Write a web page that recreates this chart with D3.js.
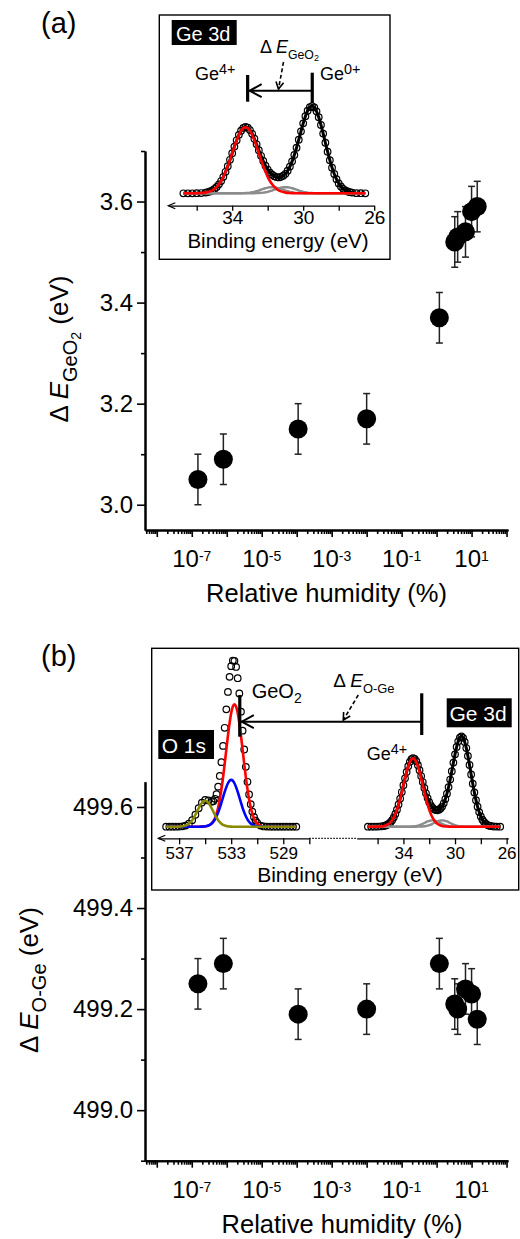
<!DOCTYPE html>
<html><head><meta charset="utf-8">
<script src="https://cdn.jsdelivr.net/npm/d3@7"></script>
<style>
body{margin:0;background:#fff}
text{font-family:"Liberation Sans",Arial,Helvetica,sans-serif;fill:#000}
</style>
</head><body>
<svg id="c" width="520" height="1239" xmlns="http://www.w3.org/2000/svg"></svg>
<script>
// ---------------- main panels data ----------------
const humidity = [1.5e-7, 8e-7, 1.1e-4, 1e-2, 1.2, 3.3, 4.0, 6.7, 10, 14.5];
const deltaEGeO2 = [3.05, 3.09, 3.15, 3.17, 3.37, 3.52, 3.53, 3.54, 3.58, 3.59];
const deltaEOGe = [499.25, 499.29, 499.19, 499.20, 499.29, 499.21, 499.20, 499.24, 499.23, 499.18];
const errorBar = 0.05;
const xDomain = [4.6e-9, 110];
const xLabelExponents = [-7, -5, -3, -1, 1];
const yDomainA = [2.95, 3.70];
const yMajorA = [3.0, 3.2, 3.4, 3.6];
const yMinorA = [3.1, 3.3, 3.5, 3.7];
const yDomainB = [498.90, 499.65];
const yMajorB = [499.0, 499.2, 499.4, 499.6];
const yMinorB = [498.9, 499.1, 499.3, 499.5];

// ---------------- Ge 3d spectrum (normalised intensity) ----------------
const ge3dEnergy = [36.75,36.5,36.25,36.0,35.75,35.5,
  35.375,35.25,35.125,35.0,34.875,34.75,34.625,34.5,34.375,34.25,34.125,34.0,
  33.875,33.75,33.625,33.5,33.375,33.25,33.125,33.0,
  32.875,32.75,32.625,32.5,32.375,32.25,32.125,32.0,
  31.875,31.75,31.625,31.5,31.375,31.25,31.125,31.0,
  30.875,30.75,30.625,30.5,30.375,30.25,30.125,30.0,
  29.875,29.75,29.625,29.5,29.375,29.25,29.125,29.0,
  28.875,28.75,28.625,28.5,28.375,28.25,28.125,28.0,
  27.875,27.75,27.625,27.5,27.375,27.25,
  27.0,26.75,26.5];
const ge3dData = [0,0,0,0.001,0.003,0.008,
  0.014,0.022,0.033,0.050,0.073,0.103,0.141,0.189,0.247,0.312,0.385,0.461,
  0.537,0.609,0.672,0.720,0.751,0.763,0.754,0.727,
  0.684,0.627,0.563,0.496,0.431,0.371,0.318,0.273,
  0.238,0.213,0.196,0.186,0.183,0.189,0.202,0.224,
  0.260,0.307,0.367,0.440,0.524,0.616,0.712,0.804,
  0.886,0.949,0.990,1.003,0.987,0.942,0.874,0.786,
  0.686,0.581,0.478,0.381,0.295,0.222,0.162,0.114,
  0.078,0.052,0.034,0.021,0.013,0.008,
  0.002,0.001,0];
const ge3dGe4 = [0,0,0,0.001,0.003,0.008,
  0.014,0.022,0.033,0.050,0.073,0.103,0.141,0.189,0.247,0.312,0.385,0.461,
  0.537,0.609,0.671,0.719,0.749,0.760,0.749,0.719,
  0.671,0.609,0.537,0.461,0.385,0.312,0.247,0.189,
  0.141,0.103,0.073,0.050,0.033,0.022,0.014,0.008,
  0.005,0.003,0.002,0.001,0,0,0,0,
  0,0,0,0,0,0,0,0,
  0,0,0,0,0,0,0,0,
  0,0,0,0,0,0,
  0,0,0];
const ge3dSubA = [0,0,0,0,0,0,
  0,0,0,0,0,0,0,0,0,0,0,0,
  0,0,0.001,0.001,0.002,0.003,0.005,0.008,
  0.012,0.017,0.024,0.032,0.041,0.050,0.058,0.065,
  0.069,0.070,0.069,0.065,0.058,0.050,0.041,0.032,
  0.024,0.017,0.012,0.008,0.005,0.003,0.002,0.001,
  0.001,0,0,0,0,0,0,0,
  0,0,0,0,0,0,0,0,
  0,0,0,0,0,0,
  0,0,0];
const ge3dSubB = [0,0,0,0,0,0,
  0,0,0,0,0,0,0,0,0,0,0,0,
  0,0,0,0,0,0,0,0,
  0.001,0.001,0.002,0.003,0.005,0.008,0.012,0.017,
  0.024,0.032,0.041,0.050,0.058,0.065,0.069,0.070,
  0.069,0.065,0.058,0.050,0.041,0.032,0.024,0.017,
  0.012,0.008,0.005,0.003,0.002,0.001,0.001,0,
  0,0,0,0,0,0,0,0,
  0,0,0,0,0,0,
  0,0,0];
const ge3dFit = ge3dData;
const ge3dTicks = [36, 34, 32, 30, 28, 26];
const ge3dLabels = [34, 30, 26];

// ---------------- O 1s spectrum (same units) ----------------
const o1sEnergy = [538.0,537.75,537.5,537.25,537.0,536.75,536.5,536.25,536.0,535.75,535.5,535.25,535.0,534.75,534.5,
  534.375,534.25,534.125,534.0,533.875,533.75,533.625,533.5,533.375,533.25,533.125,533.0,532.875,532.75,532.625,
  532.5,532.375,532.25,532.125,532.0,531.875,531.75,531.625,531.5,531.375,531.25,531.125,531.0,
  530.75,530.5,530.25,530.0,529.75,529.5,529.25,529.0,528.75,528.5,528.25,528.0];
const o1sData = [0,0,0,0,0.001,0.004,0.013,0.033,0.072,0.133,0.205,0.268,0.298,0.292,0.277,
  0.284,0.310,0.361,0.445,0.564,0.717,0.898,1.099,1.304,1.498,1.665,1.784,1.846,1.843,1.775,
  1.650,1.480,1.278,1.067,0.858,0.665,0.499,0.359,0.250,0.168,0.109,0.068,0.041,
  0.013,0.003,0.001,0,0,0,0,0,0,0,0,0];
const o1sGeO2 = [0,0,0,0,0,0,0,0,0,0,0,0.001,0.003,0.012,0.036,
  0.060,0.095,0.145,0.214,0.304,0.417,0.549,0.699,0.857,1.011,1.152,1.263,1.335,1.360,1.335,
  1.263,1.152,1.011,0.857,0.699,0.549,0.417,0.304,0.214,0.145,0.095,0.060,0.036,
  0.012,0.003,0.001,0,0,0,0,0,0,0,0,0];
const o1sBlue = [0,0,0,0,0,0,0,0,0,0,0,0.001,0.005,0.014,0.036,
  0.055,0.082,0.116,0.159,0.210,0.267,0.328,0.387,0.440,0.483,0.511,0.520,0.511,0.483,0.440,
  0.387,0.328,0.267,0.210,0.159,0.116,0.082,0.055,0.036,0.023,0.014,0.008,0.005,
  0.001,0,0,0,0,0,0,0,0,0,0,0];
const o1sOlive = [0,0,0,0,0.001,0.004,0.013,0.033,0.072,0.133,0.205,0.266,0.290,0.266,0.205,
  0.169,0.133,0.100,0.072,0.050,0.033,0.021,0.013,0.007,0.004,0.002,0.001,0,0,0,
  0,0,0,0,0,0,0,0,0,0,0,0,0,
  0,0,0,0,0,0,0,0,0,0,0,0];
const o1sTicks = [537, 535, 533, 531, 529, 527];
const o1sLabels = [537, 533, 529];

// peak marker energies (eV)
const markersA = {ge4: 33.13, ge0: 29.49};
const markersB = {geO2: 532.34, ge4: 32.58};

// ---------------- drawing ----------------
const svg = d3.select("#c");

function mainPanel(o) {
  const x = d3.scaleLog().domain(xDomain).range([145, 508]);
  const y = d3.scaleLinear().domain(o.yDomain).range([o.bottom, o.top]);
  const g = svg.append("g");
  const ya = g.append("g").attr("transform", "translate(145,0)")
    .call(d3.axisLeft(y).tickValues(o.yMajor).tickSize(8).tickSizeOuter(0).tickPadding(4).tickFormat(d3.format(".1f")));
  g.append("g").attr("transform", "translate(145,0)")
    .call(d3.axisLeft(y).tickValues(o.yMinor).tickSize(4).tickSizeOuter(0).tickFormat(""));
  const minors = [];
  for (let n = -9; n <= 2; n++) for (let k = 2; k <= 9; k++) {
    const v = k * Math.pow(10, n);
    if (v >= xDomain[0] && v <= xDomain[1]) minors.push(v);
  }
  const majors = [];
  for (let n = -8; n <= 2; n++) { const v = Math.pow(10, n); if (v >= xDomain[0] && v <= xDomain[1]) majors.push(v); }
  g.append("g").attr("transform", `translate(0,${o.bottom})`)
    .call(d3.axisBottom(x).tickValues(minors).tickSize(4).tickSizeOuter(0).tickFormat(""));
  g.append("g").attr("transform", `translate(0,${o.bottom})`)
    .call(d3.axisBottom(x).tickValues(majors).tickSize(7).tickSizeOuter(0).tickFormat(""));
  g.selectAll(".domain").attr("stroke", "#000").attr("stroke-width", 2);
  g.selectAll(".tick line").attr("stroke", "#000").attr("stroke-width", 1.6);
  ya.selectAll(".tick text").style("font-size", "24px").attr("fill", "#000");
  xLabelExponents.forEach(e => {
    const t = g.append("text").attr("x", x(Math.pow(10, e))).attr("y", o.bottom + 37)
      .attr("text-anchor", "middle").style("font-size", "24px");
    t.append("tspan").text("10");
    t.append("tspan").attr("dy", -6).style("font-size", "14px").text(String(e));
  });
  g.append("text").attr("x", o.xTitleX).attr("y", o.xTitleY).attr("text-anchor", "middle")
    .style("font-size", "25.5px").text("Relative humidity (%)");
  const t = g.append("text").attr("transform", `translate(${o.yTitleX},${o.yTitleY}) rotate(-90)`)
    .attr("text-anchor", "middle").style("font-size", "26px");
  t.append("tspan").text("\u0394 ");
  t.append("tspan").style("font-style", "italic").text("E");
  t.append("tspan").attr("dy", o.subDy).style("font-size", "20px").text(o.sub);
  let back = -o.subDy;
  if (o.subsub) { t.append("tspan").attr("dy", 4).style("font-size", "14px").text(o.subsub); back -= 4; }
  t.append("tspan").attr("dy", back).text(" (eV)");
  g.append("text").attr("x", 41).attr("y", o.labelY).style("font-size", "29px").text(o.label);
  const pts = humidity.map((h, i) => ({h, v: o.values[i]}));
  const eb = g.append("g").attr("stroke", "#222").attr("stroke-width", 1.5);
  pts.forEach(p => {
    const cx = x(p.h), y1 = y(p.v + errorBar), y2 = y(p.v - errorBar);
    eb.append("line").attr("x1", cx).attr("x2", cx).attr("y1", y1).attr("y2", y2);
    eb.append("line").attr("x1", cx - 3.5).attr("x2", cx + 3.5).attr("y1", y1).attr("y2", y1);
    eb.append("line").attr("x1", cx - 3.5).attr("x2", cx + 3.5).attr("y1", y2).attr("y2", y2);
  });
  g.append("g").selectAll("circle").data(pts).join("circle")
    .attr("cx", p => x(p.h)).attr("cy", p => y(p.v)).attr("r", 9.5).attr("fill", "#000");
}

mainPanel({top: 151, bottom: 530, yDomain: yDomainA, yMajor: yMajorA, yMinor: yMinorA, values: deltaEGeO2,
  xTitleX: 326.5, xTitleY: 602, yTitleX: 68, yTitleY: 349, sub: "GeO", subsub: "2", subDy: 9, label: "(a)", labelY: 33});
mainPanel({top: 781.7, bottom: 1160.7, yDomain: yDomainB, yMajor: yMajorB, yMinor: yMinorB, values: deltaEOGe,
  xTitleX: 342, xTitleY: 1233, yTitleX: 38, yTitleY: 980, sub: "O-Ge", subsub: null, subDy: 8, label: "(b)", labelY: 666});

// ---------- inset helpers ----------
function spectrum(g, xs, ys, energy, arr, color, width) {
  const line = d3.line().x((d, i) => xs(energy[i])).y(d => ys(d)).curve(d3.curveMonotoneX);
  g.append("path").attr("d", line(arr)).attr("fill", "none").attr("stroke", color)
    .attr("stroke-width", width).attr("stroke-linejoin", "round");
}
function dataCircles(g, xs, ys, energy, arr, r) {
  g.append("g").selectAll("circle").data(arr).join("circle")
    .attr("cx", (d, i) => xs(energy[i])).attr("cy", d => ys(d)).attr("r", r)
    .attr("fill", "none").attr("stroke", "#000").attr("stroke-width", 1.2);
}
function insetAxis(g, xs, y0, ticks, labels, fs, size, pad) {
  const a = g.append("g").attr("transform", `translate(0,${y0})`)
    .call(d3.axisBottom(xs).tickValues(ticks).tickSize(size).tickSizeOuter(0).tickPadding(pad)
      .tickFormat(d => labels.includes(d) ? String(d) : ""));
  a.select(".domain").attr("stroke", "#000").attr("stroke-width", 1.2);
  a.selectAll(".tick line").attr("stroke", "#000").attr("stroke-width", 1.3);
  a.selectAll(".tick text").style("font-size", fs + "px").attr("fill", "#000");
}
function leftArrow(g, x0, y0) {
  g.append("path").attr("d", `M${x0 + 7},${y0 - 3}L${x0},${y0}L${x0 + 7},${y0 + 3}`)
    .attr("fill", "none").attr("stroke", "#000").attr("stroke-width", 1.2);
}
function blackLabel(g, x, y, w, h, txt, fs, tx, ty) {
  g.append("rect").attr("x", x).attr("y", y).attr("width", w).attr("height", h).attr("fill", "#000");
  g.append("text").attr("x", tx).attr("y", ty).style("font-size", fs + "px").style("fill", "#fff").text(txt);
}
function dashedArrow(g, x1, y1, x2, y2) {
  g.append("line").attr("x1", x1).attr("y1", y1).attr("x2", x2).attr("y2", y2)
    .attr("stroke", "#000").attr("stroke-width", 1.6).attr("stroke-dasharray", "4,2.5");
  const ang = Math.atan2(y2 - y1, x2 - x1), L = 8, s = 0.5;
  const p1 = [x2 - L * Math.cos(ang - s), y2 - L * Math.sin(ang - s)];
  const p2 = [x2 - L * Math.cos(ang + s), y2 - L * Math.sin(ang + s)];
  g.append("path").attr("d", `M${p1}L${x2},${y2}L${p2}`).attr("fill", "none")
    .attr("stroke", "#000").attr("stroke-width", 1.6);
}
function deltaLabel(g, x, y, sub, subsub, fs) {
  const t = g.append("text").attr("x", x).attr("y", y).style("font-size", fs + "px");
  t.append("tspan").text("\u0394 ");
  t.append("tspan").style("font-style", "italic").text("E");
  t.append("tspan").attr("dy", 6).style("font-size", (fs * 0.68) + "px").text(sub);
  if (subsub) t.append("tspan").attr("dy", 2).style("font-size", (fs * 0.5) + "px").text(subsub);
}
function supLabel(g, x, y, base, sup, fs) {
  const t = g.append("text").attr("x", x).attr("y", y).style("font-size", fs + "px");
  t.append("tspan").text(base);
  t.append("tspan").attr("dy", -6).style("font-size", (fs * 0.8) + "px").text(sup);
}
function bracketArrow(g, xl, xr, yl, yBarTop, yBarBot, yBarTopR, yBarBotR) {
  g.append("line").attr("x1", xl).attr("x2", xr).attr("y1", yl).attr("y2", yl).attr("stroke", "#000").attr("stroke-width", 2);
  g.append("line").attr("x1", xl).attr("x2", xl).attr("y1", yBarTop).attr("y2", yBarBot).attr("stroke", "#000").attr("stroke-width", 3.2);
  g.append("line").attr("x1", xr).attr("x2", xr).attr("y1", yBarTopR).attr("y2", yBarBotR).attr("stroke", "#000").attr("stroke-width", 3.2);
  g.append("path").attr("d", `M${xl + 14},${yl - 6.5}L${xl + 2},${yl}L${xl + 14},${yl + 6.5}`)
    .attr("fill", "none").attr("stroke", "#000").attr("stroke-width", 2);
}

// ---------- inset (a) ----------
{
  const g = svg.append("g");
  g.append("rect").attr("x", 159.3).attr("y", 15).attr("width", 230.7).attr("height", 244.3)
    .attr("fill", "#fff").attr("stroke", "#000").attr("stroke-width", 1.4);
  const xs = d3.scaleLinear().domain([37.6, 26]).range([168.3, 374.2]);
  const ys = d3.scaleLinear().domain([0, 1]).range([193.3, 106.3]);
  spectrum(g, xs, ys, ge3dEnergy, ge3dFit, "#000", 3);
  dataCircles(g, xs, ys, ge3dEnergy, ge3dData, 3.3);
  spectrum(g, xs, ys, ge3dEnergy, ge3dSubA, "#8c8c8c", 2.4);
  spectrum(g, xs, ys, ge3dEnergy, ge3dSubB, "#8c8c8c", 2.4);
  spectrum(g, xs, ys, ge3dEnergy, ge3dGe4, "#ff0000", 2.6);
  insetAxis(g, xs, 205.7, ge3dTicks, ge3dLabels, 19, 5, 0);
  leftArrow(g, 168.3, 205.7);
  g.append("text").attr("x", 278).attr("y", 247.5).attr("text-anchor", "middle").style("font-size", "20.5px").text("Binding energy (eV)");
  blackLabel(g, 171.7, 20, 65, 25, "Ge 3d", 20, 176, 40.5);
  supLabel(g, 195, 80, "Ge", "4+", 18);
  supLabel(g, 320, 80, "Ge", "0+", 18);
  deltaLabel(g, 260, 53.3, "GeO", "2", 18);
  dashedArrow(g, 283.5, 62, 278.5, 89);
  bracketArrow(g, xs(markersA.ge4), xs(markersA.ge0), 90.7, 75, 101.7, 72.7, 103.3);
}

// ---------- inset (b) ----------
{
  const g = svg.append("g");
  g.append("rect").attr("x", 151.7).attr("y", 648.3).attr("width", 367).attr("height", 241.7)
    .attr("fill", "#fff").attr("stroke", "#000").attr("stroke-width", 1.4);
  const xo = d3.scaleLinear().domain([538.6, 527]).range([158.3, 309.3]);
  const xg = d3.scaleLinear().domain([37.62, 25.87]).range([356.7, 508.3]);
  const ys = d3.scaleLinear().domain([0, 1]).range([826.7, 736.7]);
  dataCircles(g, xo, ys, o1sEnergy, o1sData, 3.3);
  spectrum(g, xo, ys, o1sEnergy, o1sGeO2, "#ff0000", 2.6);
  spectrum(g, xo, ys, o1sEnergy, o1sBlue, "#0000ff", 2.6);
  spectrum(g, xo, ys, o1sEnergy, o1sOlive, "#8a8a00", 2.6);
  spectrum(g, xg, ys, ge3dEnergy, ge3dFit, "#000", 3);
  dataCircles(g, xg, ys, ge3dEnergy, ge3dData, 3.3);
  spectrum(g, xg, ys, ge3dEnergy, ge3dSubA, "#8c8c8c", 2.4);
  spectrum(g, xg, ys, ge3dEnergy, ge3dSubB, "#8c8c8c", 2.4);
  spectrum(g, xg, ys, ge3dEnergy, ge3dGe4, "#ff0000", 2.6);
  insetAxis(g, xo, 838.3, o1sTicks, o1sLabels, 17, 6, 3);
  insetAxis(g, xg, 838.3, ge3dTicks, ge3dLabels, 17, 6, 3);
  leftArrow(g, 158.3, 838.3);
  g.append("line").attr("x1", 309.3).attr("x2", 356.7).attr("y1", 838.3).attr("y2", 838.3)
    .attr("stroke", "#000").attr("stroke-width", 1.2).attr("stroke-dasharray", "1.5,1.5");
  g.append("text").attr("x", 350).attr("y", 882).attr("text-anchor", "middle").style("font-size", "21px").text("Binding energy (eV)");
  blackLabel(g, 446.7, 698.3, 65, 29, "Ge 3d", 21, 449.5, 721);
  blackLabel(g, 158.3, 730, 55.7, 29, "O 1s", 21, 161.7, 753);
  const tg = g.append("text").attr("x", 251.7).attr("y", 698).style("font-size", "20px");
  tg.append("tspan").text("GeO");
  tg.append("tspan").attr("dy", 5).style("font-size", "14px").text("2");
  supLabel(g, 366.7, 760, "Ge", "4+", 18);
  deltaLabel(g, 333.3, 686.7, "O-Ge", null, 19);
  dashedArrow(g, 358.3, 695, 343.3, 720);
  bracketArrow(g, xo(markersB.geO2), xg(markersB.ge4), 721.7, 695, 736.7, 693.3, 735);
}
</script>
</body></html>
